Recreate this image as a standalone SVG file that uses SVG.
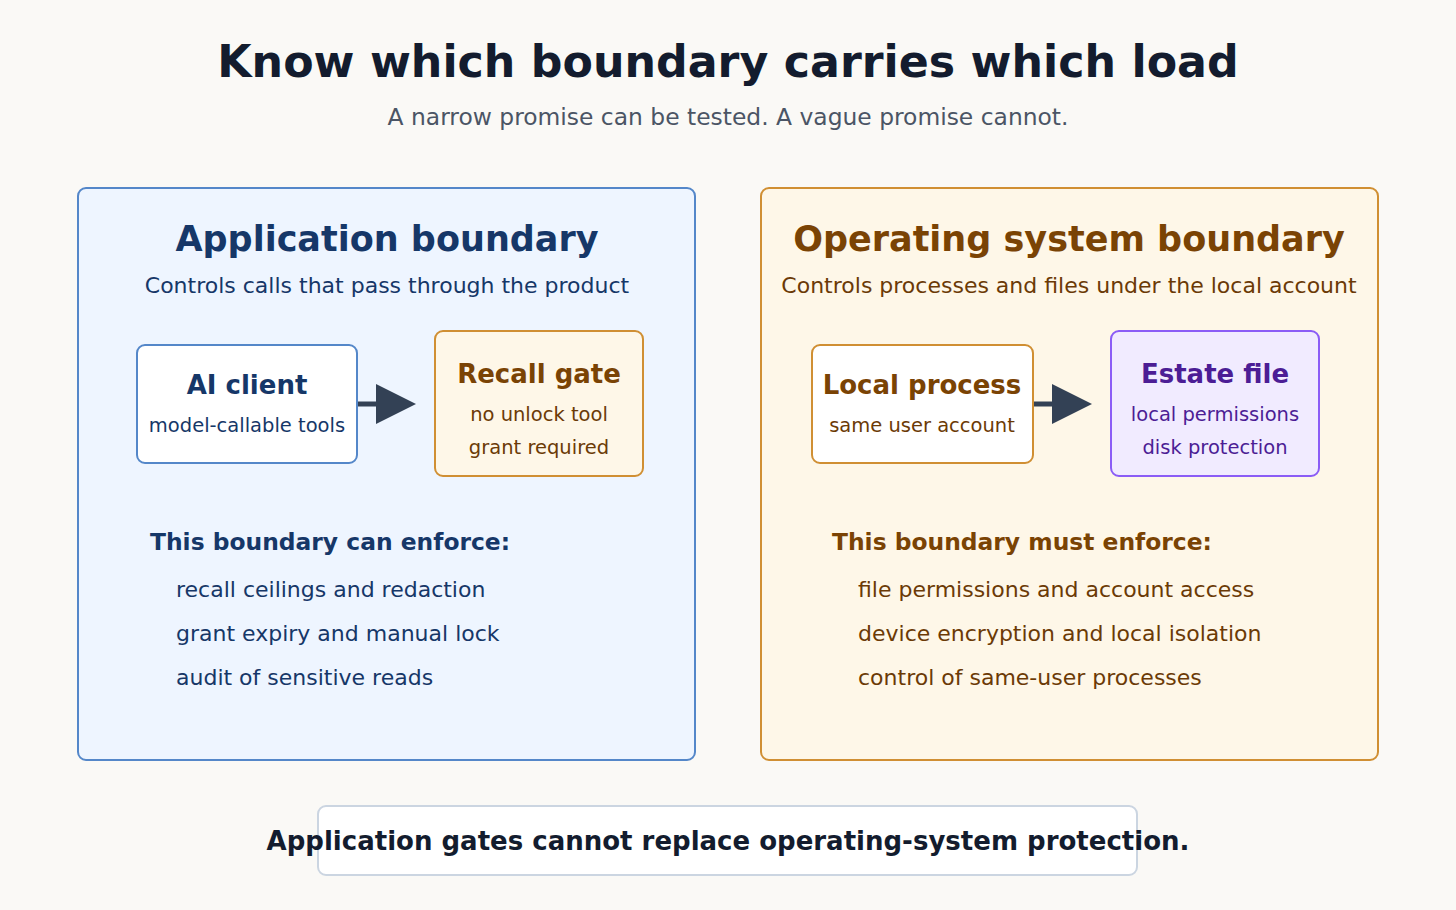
<svg xmlns="http://www.w3.org/2000/svg" width="1456" height="910" viewBox="0 0 1456 910">
<defs>
<style>
text{font-family:"DejaVu Sans","Liberation Sans",sans-serif;}
.title{font-size:44.3px;font-weight:bold;fill:#131c2e;text-anchor:middle;}
.subtitle{font-size:23.4px;fill:#4b5565;text-anchor:middle;}
.ptitle{font-size:35px;font-weight:bold;text-anchor:middle;}
.psub{font-size:22px;text-anchor:middle;}
.ntitle{font-size:26px;font-weight:bold;text-anchor:middle;}
.nsub{font-size:19.5px;text-anchor:middle;}
.lhead{font-size:23.4px;font-weight:bold;}
.item{font-size:22px;}
.blue{fill:#163768;}
.brown{fill:#7a4304;}
.brown2{fill:#6b3a06;}
.purple{fill:#4c1d95;}
.conn{stroke:#334155;stroke-width:5;fill:none;}
</style>
<marker id="arr" viewBox="0 0 10 10" refX="0" refY="5" markerWidth="8.4" markerHeight="8" markerUnits="strokeWidth" orient="auto"><path d="M0,0 L10,5 L0,10 z" fill="#334155"/></marker>
</defs>
<rect width="1456" height="910" fill="#faf9f6"/>
<text class="title" x="728" y="77">Know which boundary carries which load</text>
<text class="subtitle" x="728" y="125">A narrow promise can be tested. A vague promise cannot.</text>

<g id="app-boundary">
<rect x="78" y="188" width="617" height="572" rx="8" fill="#eef5ff" stroke="#5487c9" stroke-width="2"/>
<text class="ptitle blue" x="387" y="251">Application boundary</text>
<text class="psub blue" x="387" y="293">Controls calls that pass through the product</text>
<text class="lhead blue" x="150" y="550">This boundary can enforce:</text>
<text class="item blue" x="176" y="597">recall ceilings and redaction</text>
<text class="item blue" x="176" y="641">grant expiry and manual lock</text>
<text class="item blue" x="176" y="685">audit of sensitive reads</text>
</g>

<g id="os-boundary">
<rect x="761" y="188" width="617" height="572" rx="8" fill="#fef7e8" stroke="#d08f33" stroke-width="2"/>
<text class="ptitle brown" x="1069" y="251">Operating system boundary</text>
<text class="psub brown2" x="1069" y="293">Controls processes and files under the local account</text>
<text class="lhead brown" x="832" y="550">This boundary must enforce:</text>
<text class="item brown2" x="858" y="597">file permissions and account access</text>
<text class="item brown2" x="858" y="641">device encryption and local isolation</text>
<text class="item brown2" x="858" y="685">control of same-user processes</text>
</g>

<g id="connectors">
<line class="conn" x1="357" y1="404" x2="376" y2="404" marker-end="url(#arr)"/>
<line class="conn" x1="1033" y1="404" x2="1052" y2="404" marker-end="url(#arr)"/>
</g>

<g id="ai-client">
<rect x="137" y="345" width="220" height="118" rx="8" fill="#ffffff" stroke="#5487c9" stroke-width="2"/>
<text class="ntitle blue" x="247" y="394">AI client</text>
<text class="nsub blue" x="247" y="432">model-callable tools</text>
</g>

<g id="recall-gate">
<rect x="435" y="331" width="208" height="145" rx="8" fill="#fef7e8" stroke="#d08f33" stroke-width="2"/>
<text class="ntitle brown" x="539" y="383">Recall gate</text>
<text class="nsub brown2" x="539" y="421">no unlock tool</text>
<text class="nsub brown2" x="539" y="454">grant required</text>
</g>

<g id="local-process">
<rect x="812" y="345" width="221" height="118" rx="8" fill="#ffffff" stroke="#d08f33" stroke-width="2"/>
<text class="ntitle brown" x="922" y="394">Local process</text>
<text class="nsub brown2" x="922" y="432">same user account</text>
</g>

<g id="estate-file">
<rect x="1111" y="331" width="208" height="145" rx="8" fill="#f1ebff" stroke="#8b5cf6" stroke-width="2"/>
<text class="ntitle purple" x="1215" y="383">Estate file</text>
<text class="nsub purple" x="1215" y="421">local permissions</text>
<text class="nsub purple" x="1215" y="454">disk protection</text>
</g>

<g id="footer">
<rect x="318" y="806" width="819" height="69" rx="8" fill="#ffffff" stroke="#cbd5e1" stroke-width="2"/>
<text x="728" y="850" font-size="26" font-weight="bold" fill="#131c2e" text-anchor="middle">Application gates cannot replace operating-system protection.</text>
</g>
</svg>
